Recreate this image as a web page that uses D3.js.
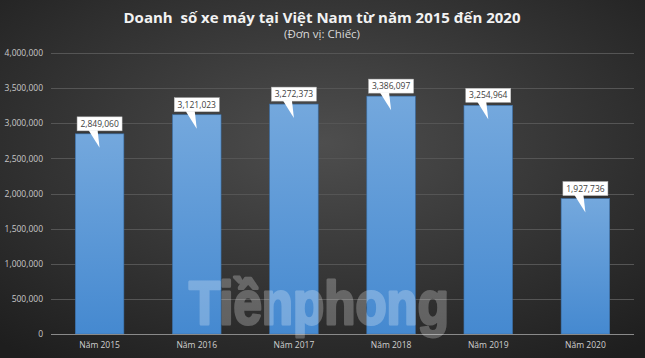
<!DOCTYPE html>
<html><head><meta charset="utf-8">
<script src="https://cdn.jsdelivr.net/npm/d3@7/dist/d3.min.js"></script>
<style>html,body{margin:0;padding:0;background:#2a2a2a;}svg{display:block;}</style>
</head><body>
<svg id="c" width="645" height="358"></svg>
<script>
const categories = ["Năm 2015","Năm 2016","Năm 2017","Năm 2018","Năm 2019","Năm 2020"];
const sales = [2849060, 3121023, 3272373, 3386097, 3254964, 1927736];
const yTicks = [0, 500000, 1000000, 1500000, 2000000, 2500000, 3000000, 3500000, 4000000];
const title = "Doanh  số xe máy tại Việt Nam từ năm 2015 đến 2020";
const subtitle = "(Đơn vị: Chiếc)";
const watermark = "Tiềnphong";

const W = 645, H = 358;
const svg = d3.select("#c");
const defs = svg.append("defs");
const bg = defs.append("radialGradient").attr("id","bg").attr("cx","50%").attr("cy","40%").attr("r","75%");
bg.append("stop").attr("offset","0%").attr("stop-color","#4e4e4e");
bg.append("stop").attr("offset","100%").attr("stop-color","#1e1e1e");
const bar = defs.append("linearGradient").attr("id","bar").attr("x1",0).attr("y1",0).attr("x2",0).attr("y2",1);
bar.append("stop").attr("offset","0%").attr("stop-color","#74a8dd");
bar.append("stop").attr("offset","100%").attr("stop-color","#4589d0");

svg.append("rect").attr("width",W).attr("height",H).attr("fill","url(#bg)");

const m = {l:51, r:11, t:53, b:24};
const x = d3.scaleBand().domain(categories).range([m.l, W-m.r]).paddingInner(0.5).paddingOuter(0.25);
const y = d3.scaleLinear().domain([0, 4000000]).range([H-m.b, m.t]);

// gridlines
svg.append("g").selectAll("line").data(yTicks.slice(1)).join("line")
  .attr("x1", m.l).attr("x2", W-m.r)
  .attr("y1", d=>Math.round(y(d))+0.5).attr("y2", d=>Math.round(y(d))+0.5)
  .attr("stroke","#555").attr("stroke-width",1);

// y axis labels
const yAxis = d3.axisLeft(y).tickValues(yTicks).tickFormat(d3.format(",")).tickSize(0).tickPadding(8);
const gy = svg.append("g").attr("transform",`translate(${m.l},0)`).call(yAxis);
gy.select(".domain").remove();
gy.selectAll("text").attr("fill","#c8c8c8").style("font-family","'Open Sans', sans-serif").style("font-size","8.5px");

// bars
svg.append("g").selectAll("rect").data(sales).join("rect")
  .attr("x",(d,i)=>x(categories[i]))
  .attr("y",d=>y(d))
  .attr("width",x.bandwidth())
  .attr("height",d=>y(0)-y(d))
  .attr("fill","url(#bar)")
  .attr("stroke","#3a6fa8").attr("stroke-width",0.6);

// x axis
const xAxis = d3.axisBottom(x).tickSize(0).tickPadding(8);
const gx = svg.append("g").attr("transform",`translate(0,${y(0)})`).call(xAxis);
gx.select(".domain").attr("stroke","#8a8a8a").attr("d",`M${m.l},0.5H${W-m.r}`);
gx.selectAll("text").attr("fill","#d0d0d0").style("font-family","'Open Sans', sans-serif").style("font-size","8.5px");

// watermark
svg.append("g").attr("opacity",0.25).append("text").attr("x",189).attr("y",324).attr("textLength",260).attr("lengthAdjust","spacingAndGlyphs")
  .attr("fill","#ffffff").attr("stroke","#ffffff").attr("stroke-width",3).attr("stroke-linejoin","round")
  .style("font-family","'Liberation Sans', Arial, sans-serif").style("font-weight","bold").style("font-size","62px")
  .text(watermark);

// data callouts
const fmt = d3.format(",");
const lab = svg.append("g").selectAll("g").data(sales).join("g")
  .attr("transform",(d,i)=>`translate(${x(categories[i])+x.bandwidth()/2},${y(d)})`);
lab.append("rect").attr("x",-22.5).attr("y",-17).attr("width",45).attr("height",14).attr("fill","#fff").attr("stroke","#bbb").attr("stroke-width",0.5);
lab.append("path").attr("d","M-11,-3.5 L-2,-3.5 L0,14 Z").attr("fill","#fff");
lab.append("text").attr("y",-7).attr("text-anchor","middle").attr("fill","#404040")
  .style("font-family","'Open Sans', sans-serif").style("font-size","8.5px").text(d=>fmt(d));

// titles
svg.append("text").attr("x",322).attr("y",23).attr("text-anchor","middle").attr("fill","#f2f2f2")
  .style("font-family","'Open Sans', sans-serif").style("font-weight","bold").style("font-size","15px")
  .style("white-space","pre").attr("xml:space","preserve").text(title);
svg.append("text").attr("x",322).attr("y",38).attr("text-anchor","middle").attr("fill","#d9d9d9")
  .style("font-family","'Open Sans', sans-serif").style("font-size","11.5px").text(subtitle);
</script>
</body></html>
